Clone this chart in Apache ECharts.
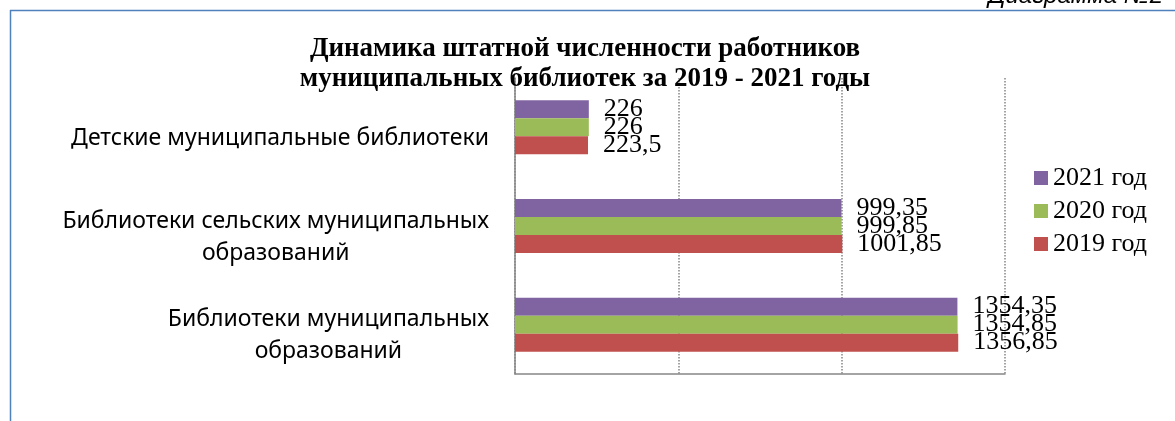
<!DOCTYPE html>
<html>
	<head>
		<meta charset="utf-8">
		<title></title>
	</head>
	<body style="margin:0;background:#fff;">
		<!-- область графика -->
		<div id="container" style="width: 1175px;height:421px;"></div>
	</body>
	<script src="https://cdn.jsdelivr.net/npm/echarts@6/dist/echarts.min.js"></script>
	<script type="text/javascript">
		'use strict'

		// категории снизу вверх, как на оси
		var categories = [
			'Библиотеки муниципальных\nобразований',
			'Библиотеки сельских муниципальных\nобразований',
			'Детские муниципальные библиотеки'
		];
		var data2019 = [1356.85, 1001.85, 223.5];
		var data2020 = [1354.85, 999.85, 226];
		var data2021 = [1354.35, 999.35, 226];
		var xTicks = [0, 500, 1000, 1500];

		function commaLabel(p) {
			return String(p.value).replace('.', ',');
		}

		var labelStyle = {
			show: true,
			position: 'right',
			distance: 15,
			formatter: commaLabel,
			fontFamily: 'Liberation Serif',
			fontSize: 26,
			color: '#000'
		};

		var myCharts = echarts.init(document.getElementById('container'));
		var option = {
			animation: false,
			title: {
				text: 'Динамика штатной численности работников\nмуниципальных библиотек за 2019 - 2021 годы',
				left: 580,
				textAlign: 'center',
				top: 29,
				textStyle: {
					fontFamily: 'Liberation Serif',
					fontWeight: 'bold',
					fontSize: 27,
					lineHeight: 30,
					color: '#000'
				}
			},
			legend: {
				orient: 'vertical',
				left: 1034,
				top: 165,
				padding: 0,
				itemWidth: 14,
				itemHeight: 14,
				itemGap: 7,
				icon: 'rect',
				data: ['2021 год', '2020 год', '2019 год'],
				textStyle: {
					fontFamily: 'Liberation Serif',
					fontSize: 26,
					color: '#000'
				}
			},
			grid: {
				left: 515,
				right: 170,
				top: 78,
				bottom: 47
			},
			xAxis: {
				type: 'value',
				min: xTicks[0],
				max: xTicks[xTicks.length - 1],
				interval: 500,
				axisLabel: { show: false },
				axisTick: { show: false },
				axisLine: { show: true, lineStyle: { color: '#868686', width: 1.5 } },
				splitLine: { show: true, lineStyle: { color: '#868686', type: 'dotted', width: 1.5 } }
			},
			yAxis: {
				type: 'category',
				data: categories,
				axisTick: { show: false },
				axisLine: { show: true, lineStyle: { color: '#868686', width: 1.5 } },
				axisLabel: {
					margin: 26,
					formatter: function (v) {
						return v.split('\n').map(function (s) { return '{c|' + s + '}'; }).join('\n');
					},
					padding: [22, 0, 0, 0],
					rich: {
						c: {
							align: 'center',
							fontFamily: 'Noto Sans',
							fontSize: 23,
							lineHeight: 32,
							color: '#000'
						}
					}
				}
			},
			graphic: [
				{ type: 'line', shape: { x1: 10, y1: 10.5, x2: 1175, y2: 10.5 }, style: { stroke: '#4F81BD', lineWidth: 1.5 } },
				{ type: 'line', shape: { x1: 10.5, y1: 10, x2: 10.5, y2: 421 }, style: { stroke: '#4F81BD', lineWidth: 1.5 } },
				{ type: 'text', right: 12, top: -16, style: { text: 'Диаграмма №2', fontFamily: 'Liberation Sans', fontStyle: 'italic', fontSize: 24, fill: '#000' } }
			],
			series: [
				{ name: '2021 год', type: 'bar', data: data2021, barWidth: 18, barGap: '0%', itemStyle: { color: '#8064A2' }, label: labelStyle },
				{ name: '2020 год', type: 'bar', data: data2020, barWidth: 18, barGap: '0%', itemStyle: { color: '#9BBB59' }, label: labelStyle },
				{ name: '2019 год', type: 'bar', data: data2019, barWidth: 18, barGap: '0%', itemStyle: { color: '#C0504D' }, label: labelStyle }
			]
		};
		myCharts.setOption(option);
	</script>
</html>
